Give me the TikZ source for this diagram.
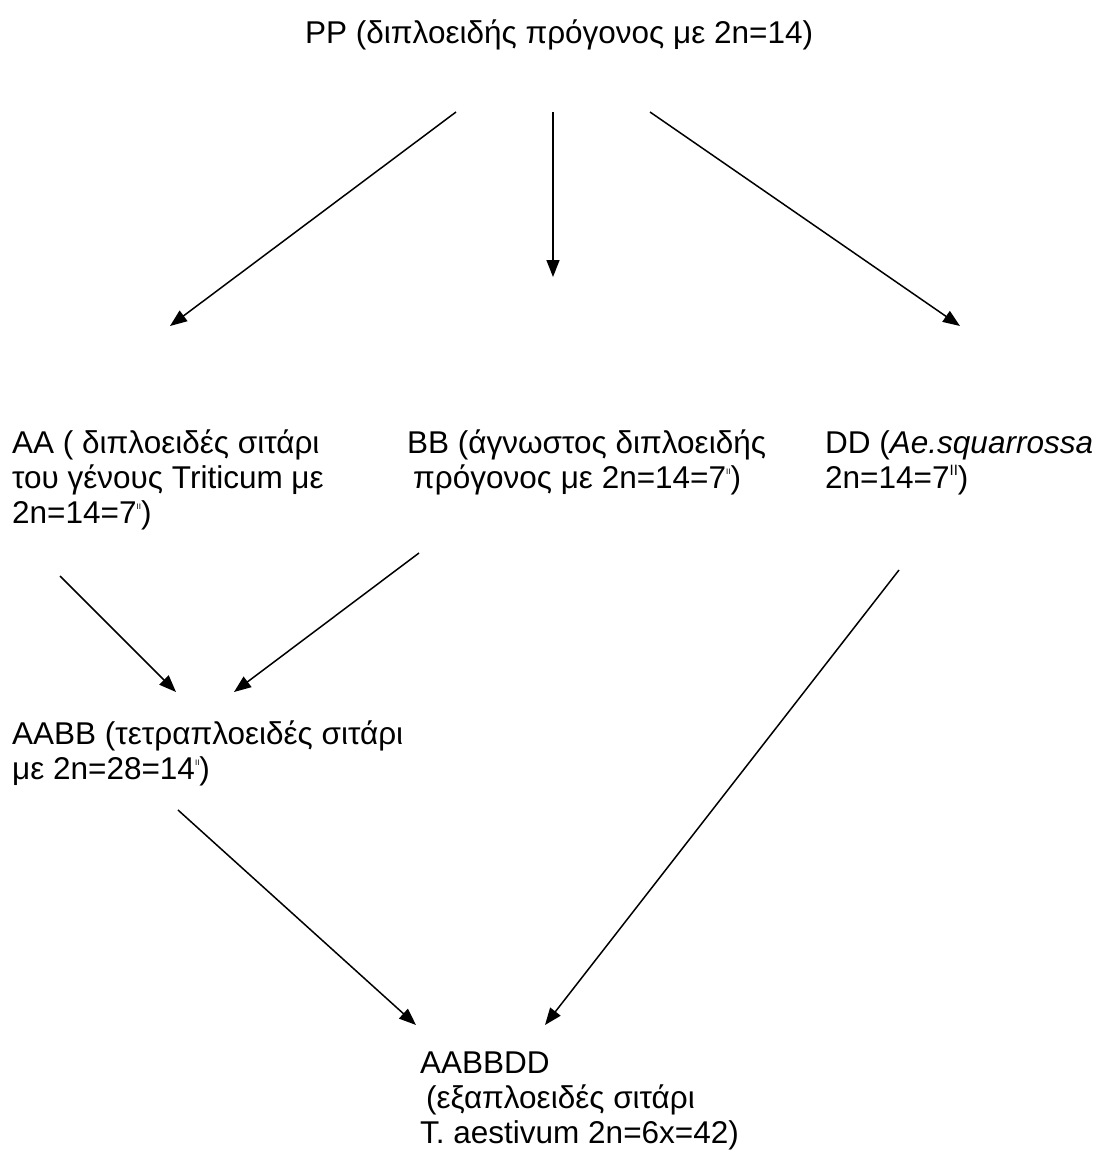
\documentclass[tikz,border=0pt]{standalone}
\usepackage{fontspec}
\setmainfont{Liberation Sans}
\usetikzlibrary{arrows.meta}
\newcommand{\smII}{\raisebox{14pt}{\fontsize{8}{8}\selectfont II}}
\newcommand{\bigII}{\raisebox{13pt}{\fontsize{15}{15}\selectfont II}}
\begin{document}
\begin{tikzpicture}[x=1pt,y=-1pt,
  txt/.style={anchor=base west, align=left, inner sep=0pt, font=\fontsize{31.5}{35}\selectfont},
  arr/.style={line width=1.5pt, -{Triangle[length=17pt,width=13pt]}}]
\useasboundingbox (0,0) rectangle (1103,1154);
% multi-line nodes: base anchor is the baseline of the last line
\node[txt] (PP) at (305,43) {PP (διπλοειδής πρόγονος με 2n=14)};
\node[txt] (AA) at (12,523) {AA ( διπλοειδές σιτάρι\\του γένους Triticum με\\2n=14=7\smII)};
\node[txt] (BB) at (407,488) {BB (άγνωστος διπλοειδής\\\hspace*{6pt}πρόγονος με 2n=14=7\smII)};
\node[txt] (DD) at (825,488) {DD (\textit{Ae.squarrossa}\\2n=14=7\bigII)};
\node[txt] (AABB) at (12,779) {AABB (τετραπλοειδές σιτάρι\\με 2n=28=14\smII)};
\node[txt] (AABBDD) at (420,1143) {AABBDD\\\hspace*{6pt}(εξαπλοειδές σιτάρι\\T. aestivum 2n=6x=42)};
% arrow ends
\coordinate (p1) at (456,112); \coordinate (a1) at (170,326);
\coordinate (p2) at (553,112); \coordinate (b1) at (553,277);
\coordinate (p3) at (650,112); \coordinate (d1) at (960,326);
\coordinate (a2) at (60,576);  \coordinate (ab1) at (176,692);
\coordinate (b2) at (419,553); \coordinate (ab2) at (234,692);
\coordinate (ab3) at (178,810); \coordinate (h1) at (416,1025);
\coordinate (d2) at (899,570); \coordinate (h2) at (545,1025);
\draw[arr] (p1) -- (a1);
\draw[arr] (p2) -- (b1);
\draw[arr] (p3) -- (d1);
\draw[arr] (a2) -- (ab1);
\draw[arr] (b2) -- (ab2);
\draw[arr] (ab3) -- (h1);
\draw[arr] (d2) -- (h2);
\end{tikzpicture}
\end{document}
